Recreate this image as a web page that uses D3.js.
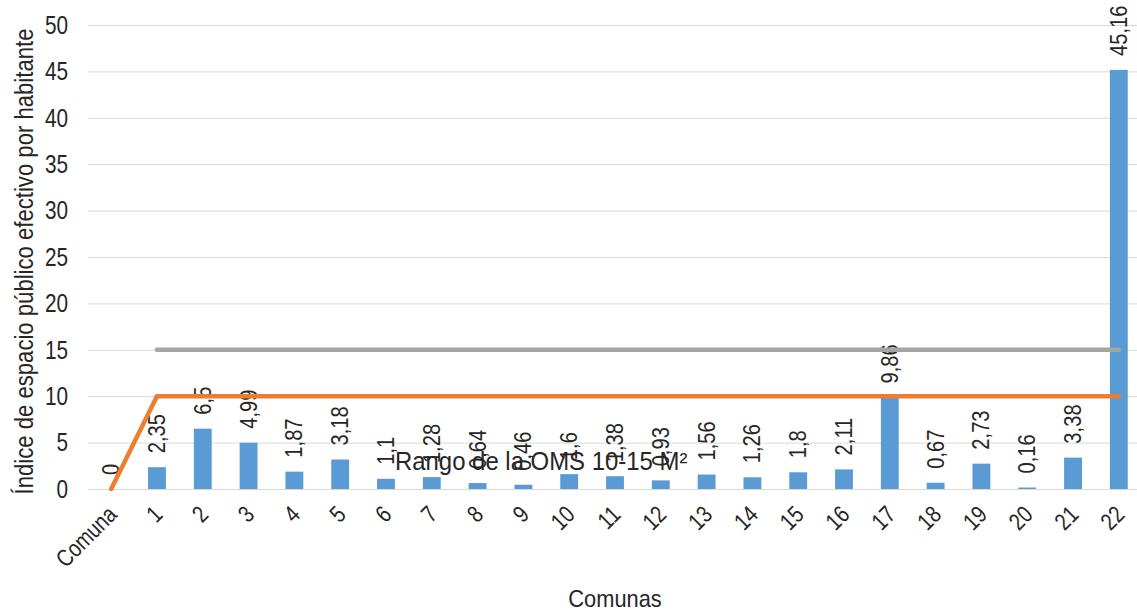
<!DOCTYPE html>
<html>
<head>
<meta charset="utf-8">
<script src="https://cdn.jsdelivr.net/npm/d3@7"></script>
<style>
  body { margin: 0; background: #fff; }
  text { font-family: "Liberation Sans", Arial, sans-serif; fill: #262626; }
</style>
</head>
<body>
<svg id="chart" width="1137" height="613"></svg>
<script>

// comunas on the x axis
var comunas = ["Comuna", "1", "2", "3", "4", "5", "6", "7", "8", "9", "10", "11",
			   "12", "13", "14", "15", "16", "17", "18", "19", "20", "21", "22"];

// indice de espacio publico efectivo por habitante (m2)
var indice = [0, 2.35, 6.5, 4.99, 1.87, 3.18, 1.1, 1.28, 0.64, 0.46, 1.6, 1.38,
			  0.93, 1.56, 1.26, 1.8, 2.11, 9.86, 0.67, 2.73, 0.16, 3.38, 45.16];

// rango de la OMS: lower and upper limit
var omsMin = [0, 10, 10, 10, 10, 10, 10, 10, 10, 10, 10, 10,
			  10, 10, 10, 10, 10, 10, 10, 10, 10, 10, 10];
var omsMax = [null, 15, 15, 15, 15, 15, 15, 15, 15, 15, 15, 15,
			  15, 15, 15, 15, 15, 15, 15, 15, 15, 15, 15];

var yTicks = [0, 5, 10, 15, 20, 25, 30, 35, 40, 45, 50];

// narrow look (no Arial Narrow installed): squeeze Liberation Sans
function narrow(k) { return " scale(" + k + ",1)"; }

var svg = d3.select("#chart");

var x = d3.scaleBand()
		.domain(comunas)
		.range([88.5, 1141.5])
		.paddingInner(0.61)
		.paddingOuter(0.3);

var y = d3.scaleLinear()
		.domain([0, 50])
		.range([489, 25]);

var fmt = function(v) { return String(v).replace(".", ","); };

// gridlines
svg.append("g")
	.selectAll("line")
	.data(yTicks)
	.enter().append("line")
	.attr("x1", 88)
	.attr("x2", 1137)
	.attr("y1", function(d) { return y(d) + 0.5; })
	.attr("y2", function(d) { return y(d) + 0.5; })
	.attr("stroke", "#d9d9d9")
	.attr("stroke-width", 1);

// y axis labels
svg.append("g")
	.selectAll("text")
	.data(yTicks)
	.enter().append("text")
	.attr("transform", function(d) {
		return "translate(68," + y(d) + ")" + narrow(0.83); })
	.attr("text-anchor", "end")
	.attr("dy", "0.35em")
	.attr("font-size", 25)
	.attr("fill", "#404040")
	.text(function(d) { return d; });

// bars
svg.append("g")
	.selectAll("rect")
	.data(indice)
	.enter().append("rect")
	.attr("x", function(d, i) { return x(comunas[i]); })
	.attr("y", function(d) { return y(d); })
	.attr("width", x.bandwidth())
	.attr("height", function(d) { return y(0) - y(d); })
	.attr("fill", "#5b9bd5");

// value labels
svg.append("g")
	.selectAll("text")
	.data(indice)
	.enter().append("text")
	.attr("transform", function(d, i) {
		return "translate(" + (x(comunas[i]) + x.bandwidth() / 2 + 8) + "," +
							  (y(d) - 14) + ") rotate(-90)" + narrow(0.84); })
	.attr("font-size", 24)
	.attr("fill", "#404040")
	.text(fmt);

// x axis labels
svg.append("g")
	.selectAll("text")
	.data(comunas)
	.enter().append("text")
	.attr("transform", function(d) {
		return "translate(" + (x(d) + x.bandwidth() / 2 - 5) + ",504) rotate(-45)" + narrow(0.82); })
	.attr("text-anchor", "end")
	.attr("dy", "0.71em")
	.attr("font-size", 24)
	.attr("fill", "#404040")
	.text(function(d) { return d; });

// OMS lines
var line = d3.line()
		.defined(function(d) { return d != null; })
		.x(function(d, i) { return x(comunas[i]) + x.bandwidth() / 2; })
		.y(function(d) { return y(d); });

svg.append("path")
	.datum(omsMax)
	.attr("d", line)
	.attr("fill", "none")
	.attr("stroke", "#a5a5a5")
	.attr("stroke-width", 4.5)
	.attr("stroke-linecap", "round");

svg.append("path")
	.datum(omsMin)
	.attr("d", line)
	.attr("fill", "none")
	.attr("stroke", "#ed7d31")
	.attr("stroke-width", 4.5)
	.attr("stroke-linecap", "round");

// legend-like label
svg.append("text")
	.attr("transform", "translate(395,470)" + narrow(0.92))
	.attr("font-size", 26)
	.attr("fill", "#262626")
	.text("Rango de la OMS 10-15 M²");

// axis titles
svg.append("text")
	.attr("transform", "translate(615,607)" + narrow(0.91))
	.attr("text-anchor", "middle")
	.attr("font-size", 24)
	.text("Comunas");

svg.append("text")
	.attr("transform", "translate(33,261.5) rotate(-90)" + narrow(0.885))
	.attr("text-anchor", "middle")
	.attr("font-size", 25)
	.text("Índice de espacio público efectivo por habitante");

</script>
</body>
</html>
